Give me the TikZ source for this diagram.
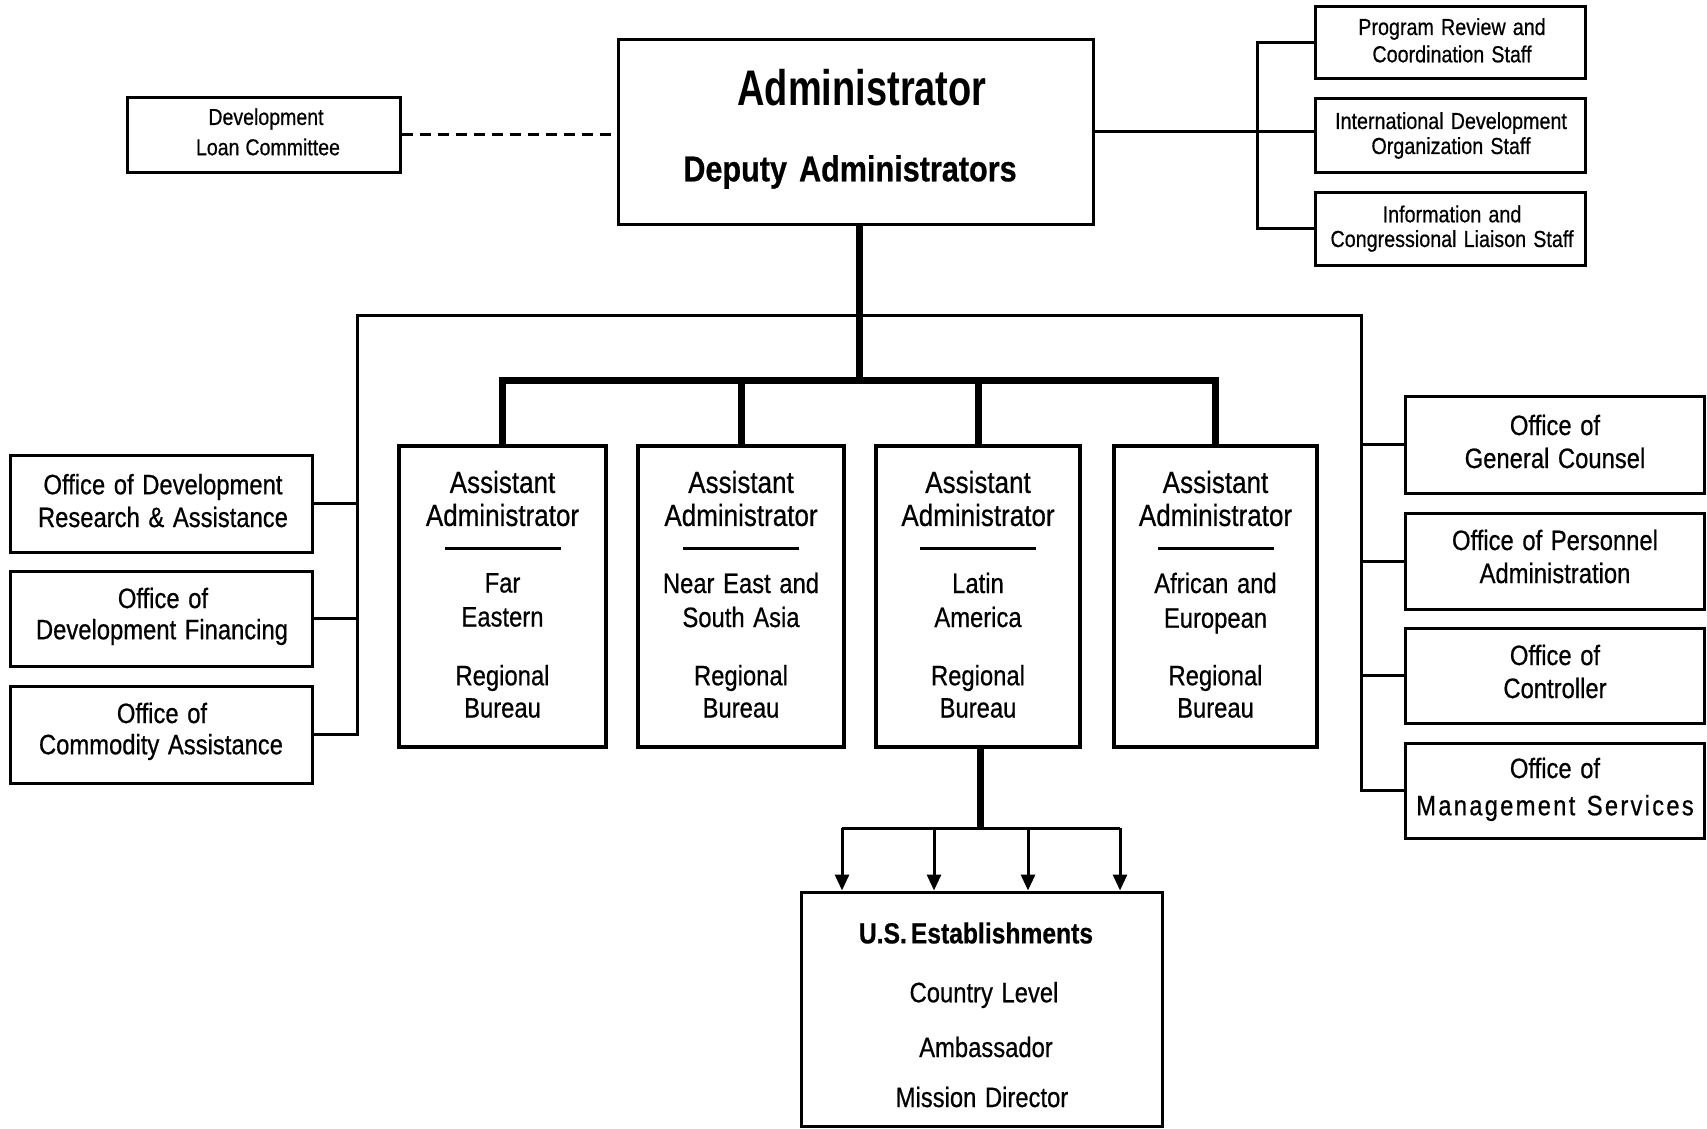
\documentclass[tikz,border=0pt]{standalone}
\usepackage{fontspec}
\setmainfont{Liberation Sans}[FakeStretch=0.85, WordSpace=1.3, FakeBold=0.6]
\newfontfamily\titlefont{Liberation Sans}[FakeStretch=0.76, WordSpace=1.3]
\usetikzlibrary{arrows.meta,fit}
\newcommand\sz[1]{\fontsize{#1}{#1}\selectfont}
\begin{document}
\begin{tikzpicture}[x=0.5pt,y=-0.5pt,
  box/.style={draw, line width=1.5pt, inner sep=0pt},
  abox/.style={draw, line width=2pt, inner sep=0pt},
  conn/.style={line width=1.5pt},
  trunk/.style={line width=3.5pt},
  dashline/.style={line width=1.5pt, dash pattern=on 5.5pt off 3.5pt},
  arr/.style={line width=1.5pt, -{Triangle[length=8pt,width=7pt]}},
  txt/.style={inner sep=0pt},
  ttl/.style={txt, font=\titlefont\bfseries\sz{25}},
  dep/.style={txt, font=\bfseries\sz{18}},
  ahead/.style={txt, font=\sz{15.3}},
  body/.style={txt, font=\sz{14}},
  smalltxt/.style={txt, font=\sz{11.6}},
  dlctxt/.style={txt, font=\sz{11.5}},
  usb/.style={txt, font=\bfseries\sz{14.5}},
  sepline/.style={line width=1.5pt}
]
\useasboundingbox (0,0) rectangle (1707,1129);

% ---- boxes ----
\node[box, fit={(618,40) (1093,224)}] (admin) {};
\node[box, fit={(127,98) (400,172)}] (dlc) {};
\node[box, fit={(1315,7) (1585,79)}] (prc) {};
\node[box, fit={(1315,99) (1585,172)}] (ido) {};
\node[box, fit={(1315,192) (1585,265)}] (icl) {};

\node[box, fit={(10,455) (312,552)}] (lo1) {};
\node[box, fit={(10,571) (312,666)}] (lo2) {};
\node[box, fit={(10,686) (312,783)}] (lo3) {};

\node[box, fit={(1405,396) (1704,493)}] (ro1) {};
\node[box, fit={(1405,513) (1704,609)}] (ro2) {};
\node[box, fit={(1405,628) (1704,723)}] (ro3) {};
\node[box, fit={(1405,743) (1704,838)}] (ro4) {};

\node[abox, fit={(399,446) (606,747)}] (aa1) {};
\node[abox, fit={(638,446) (844,747)}] (aa2) {};
\node[abox, fit={(876,446) (1080,747)}] (aa3) {};
\node[abox, fit={(1114,446) (1317,747)}] (aa4) {};

\node[box, fit={(801,892) (1162,1126)}] (us) {};

% ---- coordinates ----
\coordinate (hub) at (859,380);
\coordinate (lt) at (357,315);
\coordinate (rt) at (1361,315);
\coordinate (brk) at (1257,133);
\coordinate (lb) at (980,828);
\coordinate (a1) at (842,828);
\coordinate (a2) at (934,828);
\coordinate (a3) at (1028,828);
\coordinate (a4) at (1120,828);

% ---- connectors ----
\draw[dashline] (dlc.east) -- (dlc.east -| admin.west);
\draw[conn] (admin.east) -- (admin.east -| ido.west);
\draw[conn] (prc.west) -- (prc.west -| brk) -- (icl.west -| brk) -- (icl.west);

\draw[trunk] (hub |- admin.south) -- (hub);
\draw[trunk] (aa1.north) -- (aa1.north |- hub) -- (aa4.north |- hub) -- (aa4.north);
\draw[trunk] (aa2.north) -- (aa2.north |- hub);
\draw[trunk] (aa3.north) -- (aa3.north |- hub);

\draw[conn] (lo3.east) -- (lo3.east -| lt) -- (lt) -- (rt) -- (rt |- ro4.west) -- (ro4.west);
\draw[conn] (lo1.east) -- (lo1.east -| lt);
\draw[conn] (lo2.east) -- (lo2.east -| lt);
\draw[conn] (ro1.west) -- (ro1.west -| rt);
\draw[conn] (ro2.west) -- (ro2.west -| rt);
\draw[conn] (ro3.west) -- (ro3.west -| rt);

\draw[trunk] (lb |- aa3.south) -- (lb);
\draw[conn] (a1) -- (a4);
\draw[arr] (a1) -- (a1 |- us.north);
\draw[arr] (a2) -- (a2 |- us.north);
\draw[arr] (a3) -- (a3 |- us.north);
\draw[arr] (a4) -- (a4 |- us.north);

% ---- texts ----
\node[ttl] (t-adm) at (862,88) {Administrator};
\node[dep] (t-dep) at (850,172) {Deputy\hspace{6pt}Administrators};

\node[dlctxt] (t-dlc1) at (266,119) {Development};
\node[dlctxt] (t-dlc2) at (268,147) {Loan\hspace{3pt}Committee};

\node[smalltxt] (t-prc1) at (1452,29) {Program Review and};
\node[smalltxt] (t-prc2) at (1452,54) {Coordination Staff};
\node[smalltxt] (t-ido1) at (1451,123) {International Development};
\node[smalltxt] (t-ido2) at (1451,148) {Organization Staff};
\node[smalltxt] (t-icl1) at (1452,214) {Information and};
\node[smalltxt] (t-icl2) at (1452,241) {Congressional Liaison Staff};

\node[body] (t-lo11) at (163,487) {Office of Development};
\node[body] (t-lo12) at (163,517) {Research \& Assistance};
\node[body] (t-lo21) at (163,598) {Office of};
\node[body] (t-lo22) at (162,632) {Development Financing};
\node[body] (t-lo31) at (162,713) {Office of};
\node[body] (t-lo32) at (161,747) {Commodity Assistance};

\node[body] (t-ro11) at (1555,425) {Office of};
\node[body] (t-ro12) at (1555,458) {General Counsel};
\node[body] (t-ro21) at (1555,540) {Office of Personnel};
\node[body] (t-ro22) at (1555,573) {Administration};
\node[body] (t-ro31) at (1555,655) {Office of};
\node[body] (t-ro32) at (1555,688) {Controller};
\node[body] (t-ro41) at (1555,768) {Office of};
\node[body] (t-ro42) at (1555,808) {\addfontfeature{LetterSpace=8}Management Services};

% assistant boxes
\foreach \b/\la/\lb/\yb in {aa1/Far/Eastern/617, aa2/Near East and/South Asia/617, aa3/Latin/America/617, aa4/African and/European/621}{
  \node[ahead] at (\b.center |- 0,482) {Assistant};
  \node[ahead] at (\b.center |- 0,515) {Administrator};
  \draw[sepline] (\b.center |- 0,548) ++(-58,0) -- ++(116,0);
  \node[body] at (\b.center |- 0,583) {\la};
  \node[body] at (\b.center |- 0,\yb) {\lb};
  \node[body] at (\b.center |- 0,678) {Regional};
  \node[body] at (\b.center |- 0,708) {Bureau};
}

\node[usb] (t-us1) at (976,933) {U.S.\hspace{2pt}Establishments};
\node[body] (t-us2) at (984,995) {Country Level};
\node[body] (t-us3) at (986,1047) {Ambassador};
\node[body] (t-us4) at (982,1097) {Mission Director};
\end{tikzpicture}
\end{document}
